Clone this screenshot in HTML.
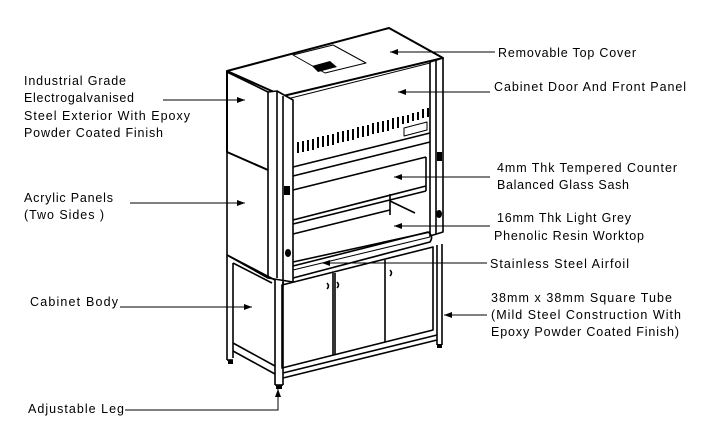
<!DOCTYPE html>
<html><head><meta charset="utf-8"><style>html,body{margin:0;padding:0;background:#fff}svg{display:block}</style></head><body>
<svg width="723" height="425" viewBox="0 0 723 425" xmlns="http://www.w3.org/2000/svg">
<defs><marker id="a" markerWidth="8" markerHeight="6" refX="8" refY="3" orient="auto" markerUnits="userSpaceOnUse"><path d="M0,0 L8,3 L0,6 z" fill="#000"/></marker></defs>
<g fill="none" stroke="#000" stroke-width="1.6" stroke-linejoin="round">
<polygon points="227,71 389,28 443,58 283,96" fill="#fff" stroke-width="2"/>
<polygon points="293,55 333,45 366,63 325,73" stroke-width="1"/>
<polygon points="312,66 330,61 337,67 318,72" fill="#000" stroke="none"/>
<line x1="283" y1="100" x2="430" y2="63" stroke-width="1"/>
<polyline points="227,71 227,152 268,170" stroke-width="2"/>
<line x1="227" y1="72" x2="268" y2="92"/>
<polyline points="227,152 227,255 268,278"/>
<polygon points="268,92 277,91 293,100 293,282 268,278" fill="#fff"/>
<line x1="277" y1="91" x2="277" y2="278"/>
<line x1="283" y1="96" x2="283" y2="284"/>
<rect x="284" y="186" width="6" height="9" fill="#000" stroke="none"/>
<ellipse cx="288" cy="253" rx="3" ry="4" fill="#000" stroke="none"/>
<polygon points="430,62 443,58 443,232 430,236" fill="#fff"/>
<line x1="436" y1="60" x2="436" y2="234"/>
<rect x="437" y="152" width="5" height="9" fill="#000" stroke="none"/>
<ellipse cx="439" cy="214" rx="3" ry="4" fill="#000" stroke="none"/>
<line x1="293" y1="167" x2="430" y2="133"/>
<line x1="293" y1="176" x2="430" y2="142"/>
<polygon points="404,128 427,122 427,130 404,136" stroke-width="1"/>
<g stroke-width="2">
<line x1="298" y1="142" x2="298" y2="153"/><line x1="303" y1="141" x2="303" y2="152"/><line x1="308" y1="140" x2="308" y2="151"/><line x1="313" y1="139" x2="313" y2="150"/><line x1="318" y1="137" x2="318" y2="148"/><line x1="323" y1="136" x2="323" y2="147"/><line x1="328" y1="135" x2="328" y2="146"/><line x1="333" y1="134" x2="333" y2="145"/><line x1="338" y1="132" x2="338" y2="143"/><line x1="343" y1="131" x2="343" y2="142"/><line x1="348" y1="130" x2="348" y2="141"/><line x1="353" y1="129" x2="353" y2="140"/><line x1="358" y1="127" x2="358" y2="138"/><line x1="363" y1="126" x2="363" y2="137"/><line x1="368" y1="125" x2="368" y2="136"/><line x1="373" y1="123" x2="373" y2="134"/><line x1="378" y1="122" x2="378" y2="133"/><line x1="383" y1="121" x2="383" y2="132"/><line x1="388" y1="120" x2="388" y2="131"/><line x1="393" y1="118" x2="393" y2="129"/><line x1="398" y1="117" x2="398" y2="128"/><line x1="403" y1="116" x2="403" y2="124"/><line x1="408" y1="115" x2="408" y2="123"/><line x1="413" y1="113" x2="413" y2="121"/><line x1="418" y1="112" x2="418" y2="120"/><line x1="423" y1="109" x2="423" y2="118"/><line x1="428" y1="108" x2="428" y2="117"/>
</g>
<line x1="293" y1="190" x2="426" y2="157"/>
<line x1="426" y1="157" x2="426" y2="191"/>
<line x1="293" y1="220" x2="426" y2="186"/>
<line x1="293" y1="224" x2="426" y2="191"/>
<line x1="390" y1="194" x2="390" y2="215"/>
<line x1="390" y1="201" x2="415" y2="213"/>
<line x1="293" y1="234" x2="390" y2="210"/>
<line x1="293" y1="262" x2="430" y2="232"/>
<path d="M293,266 L428,232 Q434,236 430,242 L293,278"/>
<line x1="293" y1="270" x2="430" y2="237" stroke-width="1"/>
<polygon points="282,285 433,247 433,330 282,368" fill="#fff"/>
<line x1="333" y1="273" x2="333" y2="355"/>
<line x1="335" y1="273" x2="335" y2="355"/>
<line x1="385" y1="260" x2="385" y2="342"/>
<path d="M327,283 q3,3 0,6 M337,282 q3,3 0,6 M390,270 q3,3 0,6" stroke-width="1.5"/>
<polyline points="227,255 275,280 275,385"/>
<polyline points="283,282 283,385"/>
<line x1="227" y1="255" x2="227" y2="360"/>
<line x1="233" y1="263" x2="233" y2="358"/>
<line x1="233" y1="263" x2="272" y2="283"/>
<line x1="233" y1="343" x2="275" y2="366"/>
<line x1="233" y1="351" x2="275" y2="374"/>
<line x1="227" y1="360" x2="233" y2="360"/>
<line x1="283" y1="373" x2="437" y2="335"/>
<line x1="283" y1="378" x2="437" y2="340"/>
<line x1="437" y1="245" x2="437" y2="345"/>
<line x1="442" y1="244" x2="442" y2="345"/>
<line x1="275" y1="385" x2="283" y2="385"/>
</g>
<rect x="228" y="360" width="5" height="4" fill="#000"/>
<rect x="276" y="385" width="6" height="4" fill="#000"/>
<rect x="437" y="344" width="5" height="4" fill="#000"/>
<g stroke="#000" stroke-width="1" fill="none">
<line x1="495" y1="52" x2="390" y2="52" marker-end="url(#a)"/>
<line x1="490" y1="92" x2="398" y2="92" marker-end="url(#a)"/>
<line x1="490" y1="177" x2="394" y2="177" marker-end="url(#a)"/>
<line x1="490" y1="226" x2="394" y2="226" marker-end="url(#a)"/>
<line x1="487" y1="263" x2="322" y2="263" marker-end="url(#a)"/>
<line x1="487" y1="315" x2="444" y2="315" marker-end="url(#a)"/>
<line x1="163" y1="100" x2="245" y2="100" marker-end="url(#a)"/>
<line x1="130" y1="203" x2="245" y2="203" marker-end="url(#a)"/>
<line x1="120" y1="307" x2="252" y2="307" marker-end="url(#a)"/>
<polyline points="125,410 278,410 278,389" marker-end="url(#a)"/>
</g>
<g font-family="Liberation Sans, sans-serif" font-size="12.5" fill="#000" lengthAdjust="spacingAndGlyphs">
<text x="498" y="57" textLength="138">Removable Top Cover</text>
<text x="494" y="91" textLength="192">Cabinet Door And Front Panel</text>
<text x="497" y="172" textLength="180">4mm Thk Tempered Counter</text>
<text x="497" y="189" textLength="132">Balanced Glass Sash</text>
<text x="497" y="222" textLength="134">16mm Thk Light Grey</text>
<text x="494" y="240" textLength="150">Phenolic Resin Worktop</text>
<text x="490" y="268" textLength="139">Stainless Steel Airfoil</text>
<text x="491" y="302" textLength="181">38mm x 38mm Square Tube</text>
<text x="491" y="319" textLength="190">(Mild Steel Construction With</text>
<text x="491" y="336" textLength="188">Epoxy Powder Coated Finish)</text>
<text x="24" y="85" textLength="102">Industrial Grade</text>
<text x="24" y="102" textLength="110">Electrogalvanised</text>
<text x="24" y="120" textLength="166">Steel Exterior With Epoxy</text>
<text x="24" y="137" textLength="139">Powder Coated Finish</text>
<text x="24" y="202" textLength="89">Acrylic Panels</text>
<text x="24" y="219" textLength="80">(Two Sides )</text>
<text x="30" y="306" textLength="88">Cabinet Body</text>
<text x="28" y="413" textLength="96">Adjustable Leg</text>
</g>
</svg>
</body></html>
